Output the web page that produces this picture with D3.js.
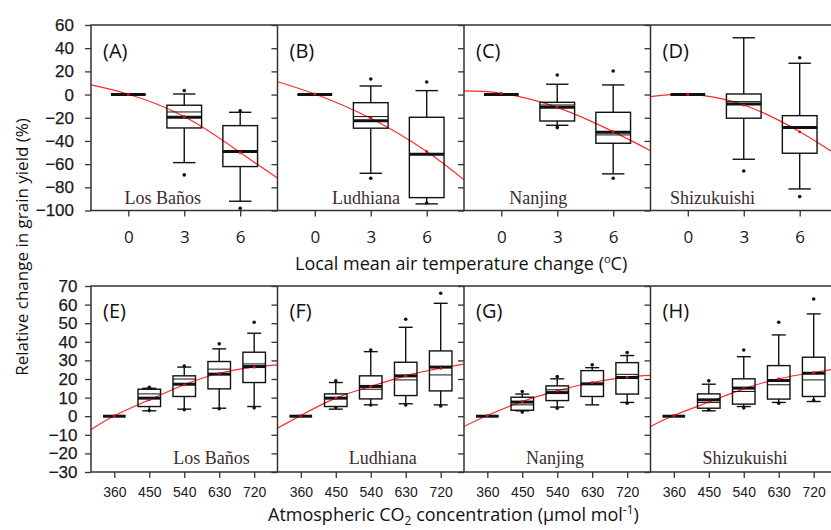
<!DOCTYPE html>
<meta charset="utf-8">
<style>
body { margin: 0; background: #fff; }
.frame { fill: none; stroke: #333; stroke-width: 1.5px; }
.axis path { display: none; }
.axis line { stroke: #333; stroke-width: 1.3px; }
.ytick text { font: 17px "Liberation Sans", Arial, sans-serif; fill: #1a1a1a; stroke: #1a1a1a; stroke-width: 0.25px; }
.xtick-t text { font: 17px "Open Sans", sans-serif; fill: #1a1a1a; }
.xtick-b text { font: 14px "Liberation Sans", Arial, sans-serif; fill: #1a1a1a; }
.title { font: 18px "Open Sans", sans-serif; fill: #111; }
.ytitle { font: 17px "Open Sans", sans-serif; fill: #111; }
.letter { font: 20px "Open Sans", sans-serif; fill: #111; }
.site { font: 18px "Liberation Serif", "Times New Roman", serif; fill: #3a2c30; }
.fit { fill: none; stroke: #ff2a2a; stroke-width: 1.2px; }
</style>
<svg width="831" height="530"></svg>
<script src="https://cdn.jsdelivr.net/npm/d3@7"></script>
<script>

// categories
let sites = ["Los Baños", "Ludhiana", "Nanjing", "Shizukuishi"];
let tempLetters = ["(A)", "(B)", "(C)", "(D)"];
let co2Letters = ["(E)", "(F)", "(G)", "(H)"];
let tempLevels = [0, 3, 6];
let co2Levels = [360, 450, 540, 630, 720];
let tempTicks = [-100, -80, -60, -40, -20, 0, 20, 40, 60];
let co2Ticks = [-30, -20, -10, 0, 10, 20, 30, 40, 50, 60, 70];

// temperature panels (A-D): box statistics per site, per level 0,3,6
let tempLo   = [[0, -58.7, -92], [0, -67.9, -94.3], [0, -26.5, -68.4], [0, -55.8, -81.4]];
let tempQ1   = [[0, -28.8, -62.1], [0, -29, -88.9], [0, -22.8, -42], [0, -20.4, -50.6]];
let tempMed  = [[0, -19.6, -49.2], [0, -22.5, -51.5], [0, -11, -32.5], [0, -8.1, -28.5]];
let tempMean = [[0, -15, -49.2], [0, -19, -51.5], [0, -9, -34.8], [0, -6.1, -28.5]];
let tempQ3   = [[0, -9.2, -26.8], [0, -7, -19.6], [0, -6.7, -15.3], [0, 0.5, -18.2]];
let tempHi   = [[0, 0.5, -15.3], [0, 7.4, 3.4], [0, 8.9, 8.3], [0, 49, 27]];
let tempOut  = [
  [[3, 3.4], [3, -69.3], [6, -14.1], [6, -98]],
  [[3, 13.4], [3, -72.2], [6, 10.9], [6, -93.5]],
  [[3, 16.9], [3, -28.5], [6, 20.3], [6, -72.2]],
  [[3, -65.9], [6, 31.8], [6, -88]]
];
let tempFitX = [-2, 0, 3, 6, 8];
let tempFit  = [[8.3, 0.3, -19, -50, -72], [11.1, 0.5, -20.5, -49.2, -73.6],
                [3.1, 1.1, -11, -32, -48.4], [-1.8, 0.3, -9, -32, -52]];

// CO2 panels (E-H): box statistics per site, per level 360..720
let co2Lo   = [[0, 2.9, 3.8, 4.3, 5.2], [0, 3.8, 6.1, 6.7, 6.1], [0, 2.9, 4.9, 6.1, 7.4], [0, 2.9, 5.2, 7.4, 7.9]];
let co2Q1   = [[0, 5.2, 10.6, 14.7, 18.1], [0, 5.2, 9.3, 11.1, 13.6], [0, 3.2, 8.4, 10.6, 11.9], [0, 4.3, 6.5, 9.2, 10.6]];
let co2Med  = [[0, 9.7, 17.2, 22.6, 26.7], [0, 9.7, 16, 21.7, 26.4], [0, 7.6, 12.7, 17.4, 20.8], [0, 8.8, 15.1, 19.2, 23.1]];
let co2Mean = [[0, 12, 20, 25.3, 28.1], [0, 9.7, 14.5, 19.5, 22.2], [0, 6.1, 14.2, 17.4, 22.5], [0, 7.4, 13.3, 16.9, 19.5]];
let co2Q3   = [[0, 14.5, 21.7, 29.4, 34.4], [0, 12, 21.7, 29, 35.1], [0, 10.2, 16.3, 24.5, 28.8], [0, 12, 20.1, 27.2, 31.7]];
let co2Hi   = [[0, 15, 26.4, 36.2, 44.6], [0, 18.1, 34.7, 47.8, 60.7], [0, 11.9, 20.1, 26.1, 32.6], [0, 17.2, 32, 43.7, 55]];
let co2Out  = [
  [[450, 15.6], [450, 3], [540, 27], [540, 3.5], [630, 38.9], [630, 4], [720, 50.5], [720, 4.5]],
  [[450, 19], [450, 4.7], [540, 35.6], [540, 6], [630, 52.1], [630, 6], [720, 66.1], [720, 5.5]],
  [[450, 13.3], [450, 2.2], [540, 21.3], [540, 4.3], [630, 27.6], [720, 34.2], [720, 7]],
  [[450, 19], [450, 3.5], [540, 35.6], [540, 4.5], [630, 50.5], [630, 7], [720, 63], [720, 8.5]]
];
let co2FitX = [300, 360, 450, 540, 630, 720, 780];
let co2Fit  = [[-7.3, 0.2, 8.8, 16.9, 23.1, 26.4, 27.6], [-6.4, 0.4, 9.7, 16, 21.7, 25.8, 28],
               [-5.5, 0.4, 7.9, 13.6, 18.1, 21, 21.9], [-5.5, 0.4, 7.6, 14.7, 20.1, 23.5, 25.5]];

// where the site name sits inside each panel (x in data units)
let tempSiteX = [1.85, 2.75, 1.98, 1.32];
let co2SiteX = [610, 571, 534, 543];

let svg = d3.select("svg");
let panelW = 186.5,
    colX = [91, 277.5, 464, 650.5];

let rows = [
  {y0: 25, y1: 210.5, dom: [-100, 60], xdom: [-2, 8], levels: tempLevels, ticks: tempTicks,
   lo: tempLo, q1: tempQ1, med: tempMed, mean: tempMean, q3: tempQ3, hi: tempHi, out: tempOut,
   fitX: tempFitX, fit: tempFit, letters: tempLetters, siteX: tempSiteX,
   halfBox: 0.93, halfCap: 0.6, xcls: "xtick-t", xpad: 14, ypad: 11, siteDy: -6.5, letterY: 33},
  {y0: 286, y1: 472, dom: [-30, 70], xdom: [300, 780], levels: co2Levels, ticks: co2Ticks,
   lo: co2Lo, q1: co2Q1, med: co2Med, mean: co2Mean, q3: co2Q3, hi: co2Hi, out: co2Out,
   fitX: co2FitX, fit: co2Fit, letters: co2Letters, siteX: co2SiteX,
   halfBox: 29, halfCap: 18, xcls: "xtick-b", xpad: 9, ypad: 7.5, siteDy: -8.5, letterY: 32}
];

rows.forEach(function(r) {
  let y = d3.scaleLinear().domain(r.dom).range([r.y1, r.y0]);

  sites.forEach(function(site, i) {
    let x = d3.scaleLinear().domain(r.xdom).range([colX[i], colX[i] + panelW]);
    let g = svg.append("g");

    // fitted curve
    let line = d3.line().curve(d3.curveNatural)
        .x(function(d) { return x(d[0]); })
        .y(function(d) { return y(d[1]); });
    g.append("path").attr("class", "fit")
        .attr("d", line(r.fitX.map(function(v, k) { return [v, r.fit[i][k]]; })));

    // boxes
    r.levels.forEach(function(lv, k) {
      let b = g.append("g").attr("stroke", "#111").attr("fill", "none");
      let xl = x(lv - r.halfBox), xr = x(lv + r.halfBox), xc = x(lv);
      let cl = x(lv - r.halfCap), cr = x(lv + r.halfCap);
      b.append("line").attr("x1", xc).attr("x2", xc)
          .attr("y1", y(r.q3[i][k])).attr("y2", y(r.hi[i][k])).attr("stroke-width", 1.4);
      b.append("line").attr("x1", xc).attr("x2", xc)
          .attr("y1", y(r.q1[i][k])).attr("y2", y(r.lo[i][k])).attr("stroke-width", 1.4);
      b.append("line").attr("x1", cl).attr("x2", cr)
          .attr("y1", y(r.hi[i][k])).attr("y2", y(r.hi[i][k])).attr("stroke-width", 1.4);
      b.append("line").attr("x1", cl).attr("x2", cr)
          .attr("y1", y(r.lo[i][k])).attr("y2", y(r.lo[i][k])).attr("stroke-width", 1.4);
      b.append("rect").attr("x", xl).attr("width", xr - xl)
          .attr("y", y(r.q3[i][k])).attr("height", y(r.q1[i][k]) - y(r.q3[i][k]))
          .attr("stroke-width", 1.4);
      b.append("line").attr("x1", xl).attr("x2", xr)
          .attr("y1", y(r.mean[i][k])).attr("y2", y(r.mean[i][k])).attr("stroke-width", 1);
      b.append("line").attr("x1", xl).attr("x2", xr)
          .attr("y1", y(r.med[i][k])).attr("y2", y(r.med[i][k])).attr("stroke-width", 3);
    });

    g.selectAll(".out").data(r.out[i]).enter().append("circle")
        .attr("cx", function(d) { return x(d[0]); })
        .attr("cy", function(d) { return y(d[1]); })
        .attr("r", 1.8).attr("fill", "#111");

    // red marks on the curve at each level
    g.selectAll(".fd").data(r.fitX.slice(1, -1)).enter().append("circle")
        .attr("cx", function(d) { return x(d); })
        .attr("cy", function(d, k) { return y(r.fit[i][k + 1]); })
        .attr("r", 1.5).attr("fill", "#e01010");

    // y ticks (labels only on first panel)
    let ya = d3.axisLeft(y).tickValues(r.ticks).tickSize(6).tickPadding(r.ypad);
    if (i > 0) ya.tickFormat("");
    svg.append("g").attr("class", "axis ytick")
        .attr("transform", "translate(" + colX[i] + ",0)")
        .call(ya);

    // x ticks
    svg.append("g").attr("class", "axis " + r.xcls)
        .attr("transform", "translate(0," + r.y1 + ")")
        .call(d3.axisBottom(x).tickValues(r.levels).tickSize(6).tickPadding(r.xpad).tickFormat(d3.format("d")));

    svg.append("text").attr("class", "letter")
        .attr("x", colX[i] + 12).attr("y", r.y0 + r.letterY)
        .text(r.letters[i]);

    svg.append("text").attr("class", "site")
        .attr("text-anchor", "middle")
        .attr("x", x(r.siteX[i])).attr("y", r.y1 + r.siteDy)
        .text(site);
  });

  // frame
  svg.append("rect").attr("class", "frame")
      .attr("x", colX[0]).attr("y", r.y0)
      .attr("width", colX[3] + panelW - colX[0]).attr("height", r.y1 - r.y0);
  colX.slice(1).forEach(function(cx) {
    svg.append("line").attr("class", "frame")
        .attr("x1", cx).attr("x2", cx).attr("y1", r.y0).attr("y2", r.y1);
  });
});

// axis titles
let t1 = svg.append("text").attr("class", "title").attr("x", 295).attr("y", 270);
t1.append("tspan").text("Local mean air temperature change (");
t1.append("tspan").attr("font-size", "11px").attr("dy", -7).text("o");
t1.append("tspan").attr("dy", 7).text("C)");

let t2 = svg.append("text").attr("class", "title").attr("x", 268).attr("y", 521);
t2.append("tspan").text("Atmospheric CO");
t2.append("tspan").attr("font-size", "12px").attr("dy", 4).text("2");
t2.append("tspan").attr("dy", -4).text(" concentration (\u03bcmol mol");
t2.append("tspan").attr("font-size", "12px").attr("dy", -7).text("-1");
t2.append("tspan").attr("dy", 7).text(")");

svg.append("text").attr("class", "ytitle")
    .attr("transform", "translate(28,247) rotate(-90)")
    .attr("text-anchor", "middle")
    .text("Relative change in grain yield (%)");

</script>
